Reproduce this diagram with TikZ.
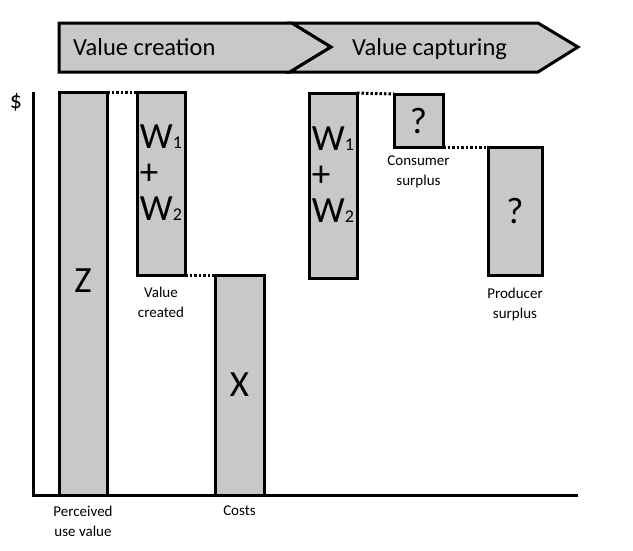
\documentclass[tikz,border=0pt]{standalone}
\usepackage{fontspec}
\setmainfont{Carlito}
\usetikzlibrary{positioning}

\definecolor{barfill}{RGB}{200,200,200}
\newcommand{\wsub}[1]{{\fontsize{18}{18}\selectfont #1}}

\tikzset{
    bar/.style={draw, fill=barfill, line width=3pt, outer sep=0pt, inner sep=0pt,
        minimum width=48pt, anchor=north west, font=\fontsize{37}{36}\selectfont},
    big/.style={font=\fontsize{37}{36}\selectfont, align=left, inner sep=0pt},
    lbl/.style={font=\fontsize{15}{20}\selectfont, align=center, inner sep=0pt},
    dots/.style={line width=3pt, dash pattern=on 2.5pt off 2pt},
    banner/.style={draw, fill=barfill, line width=3pt, line join=miter},
    phase/.style={font=\fontsize{24.5}{24}\selectfont, anchor=base west, inner sep=0pt}
}

\begin{document}
\begin{tikzpicture}[x=1pt,y=-1pt]
    \useasboundingbox (0,0) rectangle (633,550);

    % the two phases on top
    \draw[banner] (59,23) -- (292,23) -- (331,47) -- (290,72) -- (59,72) -- cycle;
    \draw[banner] (292,23) -- (538,23) -- (578,47) -- (538,72) -- (290,72) -- (331,47) -- cycle;
    \node[phase] (creation) at (73,55) {Value creation};
    \node[phase] (capturing) at (352,55) {Value capturing};

    % axes
    \coordinate (ytop) at (33,92);
    \coordinate (origin) at (33,495);
    \coordinate (xend) at (578,495);
    \draw[line width=3pt] (ytop) -- (origin) -- (xend);
    \node[font=\fontsize{24}{24}\selectfont, inner sep=0pt] (dollar) at (16,102) {\$};

    % value creation
    \node[bar, minimum height=403pt] (zbar) at (59,92) {};
    \node[big] (ztxt) at ([yshift=13pt]zbar.center) {Z};
    \node[bar, minimum height=183pt] (wbar) at (137,92) {};
    \node[big] (wtxt) at ([yshift=11pt]wbar.center) {W\wsub{1}\\+\\W\wsub{2}};
    \node[bar, minimum width=49pt, minimum height=220pt] (xbar) at (215,275) {X};

    % value capturing
    \node[bar, minimum height=185pt] (wbarb) at (309,93) {};
    \node[big] (wtxtb) at ([yshift=11pt]wbarb.center) {W\wsub{1}\\+\\W\wsub{2}};
    \node[bar, minimum width=49pt, minimum height=53pt] (consbar) at (394,94) {?};
    \node[bar, minimum width=54pt, minimum height=128pt] (prodbar) at (488,147) {?};

    % dotted links
    \draw[dots] (zbar.north east) -- (wbar.north west);
    \draw[dots] (wbar.south east) -- (xbar.north west);
    \draw[dots] (wbarb.north east) -- (consbar.north west);
    \draw[dots] (consbar.south east) -- (prodbar.north west);

    % labels
    \node[lbl, below=11pt of zbar] (zlbl) {Perceived\\use value};
    \node[lbl, below=12pt of wbar] (wlbl) {Value\\created};
    \node[lbl, below=11pt of xbar] (xlbl) {Costs};
    \node[lbl, below=9pt of consbar] (conslbl) {Consumer\\surplus};
    \node[lbl, below=13pt of prodbar] (prodlbl) {Producer\\surplus};

\end{tikzpicture}
\end{document}
